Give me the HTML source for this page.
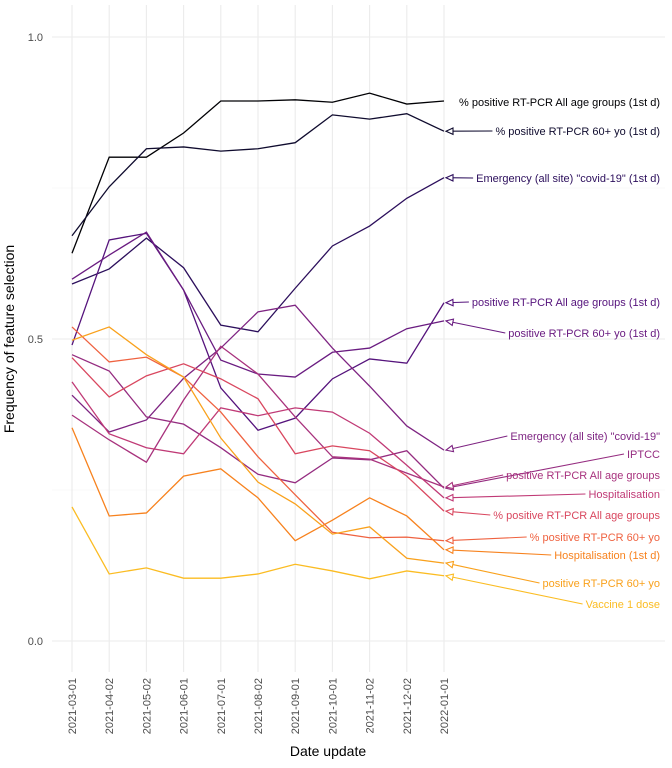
<!DOCTYPE html>
<html><head><meta charset="utf-8"><style>
body{margin:0;background:#fff;}
svg{display:block;font-family:"Liberation Sans",sans-serif;}
</style></head><body>
<svg id="chart" width="672" height="768">
<g id="grid"></g>
<g id="axes"></g>
<g id="series"></g>
<g id="labels"></g>
<text x="14" y="339" transform="rotate(-90 14 339)" text-anchor="middle" font-size="14" fill="#000">Frequency of feature selection</text>
<text x="328" y="756" text-anchor="middle" font-size="14" fill="#000">Date update</text>
</svg>
<script>
const categories = ["2021-03-01","2021-04-02","2021-05-02","2021-06-01","2021-07-01","2021-08-02","2021-09-01","2021-10-01","2021-11-02","2021-12-02","2022-01-01"];
const yTicks = [0, 0.5, 1];
const yTickLabels = ["0.0","0.5","1.0"];
const seriesNames = ["% positive RT-PCR All age groups (1st d)","% positive RT-PCR 60+ yo (1st d)","Emergency (all site) \"covid-19\" (1st d)","positive RT-PCR All age groups (1st d)","positive RT-PCR 60+ yo (1st d)","Emergency (all site) \"covid-19\"","IPTCC","positive RT-PCR All age groups","Hospitalisation","% positive RT-PCR All age groups","% positive RT-PCR 60+ yo","Hospitalisation (1st d)","positive RT-PCR 60+ yo","Vaccine 1 dose"];
const sA = [.642,.801,.801,.841,.894,.894,.896,.892,.907,.889,.894];
const sB = [.671,.752,.815,.818,.811,.815,.825,.871,.864,.873,.844];
const sC = [.591,.616,.667,.618,.523,.512,.584,.654,.687,.733,.767];
const sD = [.490,.664,.675,.581,.419,.349,.369,.434,.467,.460,.560];
const sE = [.599,.639,.677,.581,.465,.442,.437,.478,.485,.517,.530];
const sF = [.407,.346,.366,.435,.485,.545,.556,.485,.422,.356,.316];
const sH = [.474,.447,.371,.359,.320,.276,.262,.303,.300,.315,.253];
const sG = [.374,.333,.296,.399,.488,.442,.371,.305,.301,.278,.255];
const sI = [.429,.343,.320,.310,.386,.373,.386,.379,.344,.291,.237];
const sJ = [.469,.404,.439,.459,.434,.401,.310,.323,.315,.273,.215];
const sK = [.520,.462,.470,.437,.379,.305,.242,.180,.171,.172,.166];
const sL = [.353,.207,.212,.273,.285,.237,.166,.200,.237,.207,.151];
const sM = [.498,.520,.474,.437,.336,.263,.227,.177,.189,.137,.129];
const sN = [.222,.111,.121,.104,.104,.111,.127,.116,.103,.116,.108];
const allSeries = [sA,sB,sC,sD,sE,sF,sH,sG,sI,sJ,sK,sL,sM,sN];
const labelY = [102,131,178,302,333,436,454,475,494,515,537,555,583,604];
const colors = ["#000004","#0f0b2e","#2c0f5c","#55137c","#6a1c81","#7e2482","#952c80","#a8327d","#c03a76","#d9475f","#ef6240","#f7821e","#f9a11c","#fbbc22"];

const NS="http://www.w3.org/2000/svg";
const X0=72, DX=37.2, Y0=641, YS=604;
function xs(i){return X0+i*DX;}
function ys(v){return Y0-v*YS;}
function mk(tag,attrs,parent){const e=document.createElementNS(NS,tag);for(const k in attrs)e.setAttribute(k,attrs[k]);parent.appendChild(e);return e;}
const grid=document.getElementById('grid'), axes=document.getElementById('axes'), ser=document.getElementById('series'), lab=document.getElementById('labels');
[0.25,0.75].forEach(v=>{
  const l=mk('line',{x1:52,x2:665,y1:ys(v),y2:ys(v),stroke:'#f2f2f2','stroke-width':0.6},grid);
  
  
});
yTicks.forEach((v,i)=>{
  const l=mk('line',{x1:52,x2:665,y1:ys(v),y2:ys(v),stroke:'#ebebeb','stroke-width':1.1},grid);
  
  
  const t=mk('text',{x:43,y:ys(v)+4,'text-anchor':'end','font-size':11,fill:'#4d4d4d'},axes);
  t.textContent=yTickLabels[i];
  
  
});
categories.forEach((c,i)=>{
  const l=mk('line',{x1:xs(i),x2:xs(i),y1:5,y2:672,stroke:'#ebebeb','stroke-width':1.1},grid);
  
  
  const t=mk('text',{x:xs(i)+4,y:678,'text-anchor':'end','font-size':11,fill:'#4d4d4d',transform:`rotate(-90 ${xs(i)+4} 678)`},axes);
  t.textContent=c;
  
  
});
allSeries.forEach((s,k)=>{
  const p=mk('polyline',{points:s.map((v,i)=>xs(i)+','+ys(v)).join(' '),fill:'none',stroke:colors[k],'stroke-width':1.3},ser);
  
  
  const t=mk('text',{x:660,y:labelY[k]+4,'text-anchor':'end','font-size':11,fill:colors[k]},lab);
  t.textContent=seriesNames[k];
  
  
  if(k>0){
    const ex=xs(s.length-1)+2, ey=ys(s[s.length-1]);
    const tx=660-t.getComputedTextLength()-3;
    const l=mk('line',{x1:tx,y1:labelY[k],x2:ex,y2:ey,stroke:colors[k],'stroke-width':1.1},lab);
    
    
    const a=Math.atan2(labelY[k]-ey,tx-ex), L=7, w=3.2;
    const bx=ex+L*Math.cos(a), by=ey+L*Math.sin(a);
    const px=-Math.sin(a)*w, py=Math.cos(a)*w;
    const tri=mk('polygon',{points:`${ex},${ey} ${bx+px},${by+py} ${bx-px},${by-py}`,fill:'#fff',stroke:colors[k],'stroke-width':1.1},lab);
    
    
  }
});
</script>
</body></html>
